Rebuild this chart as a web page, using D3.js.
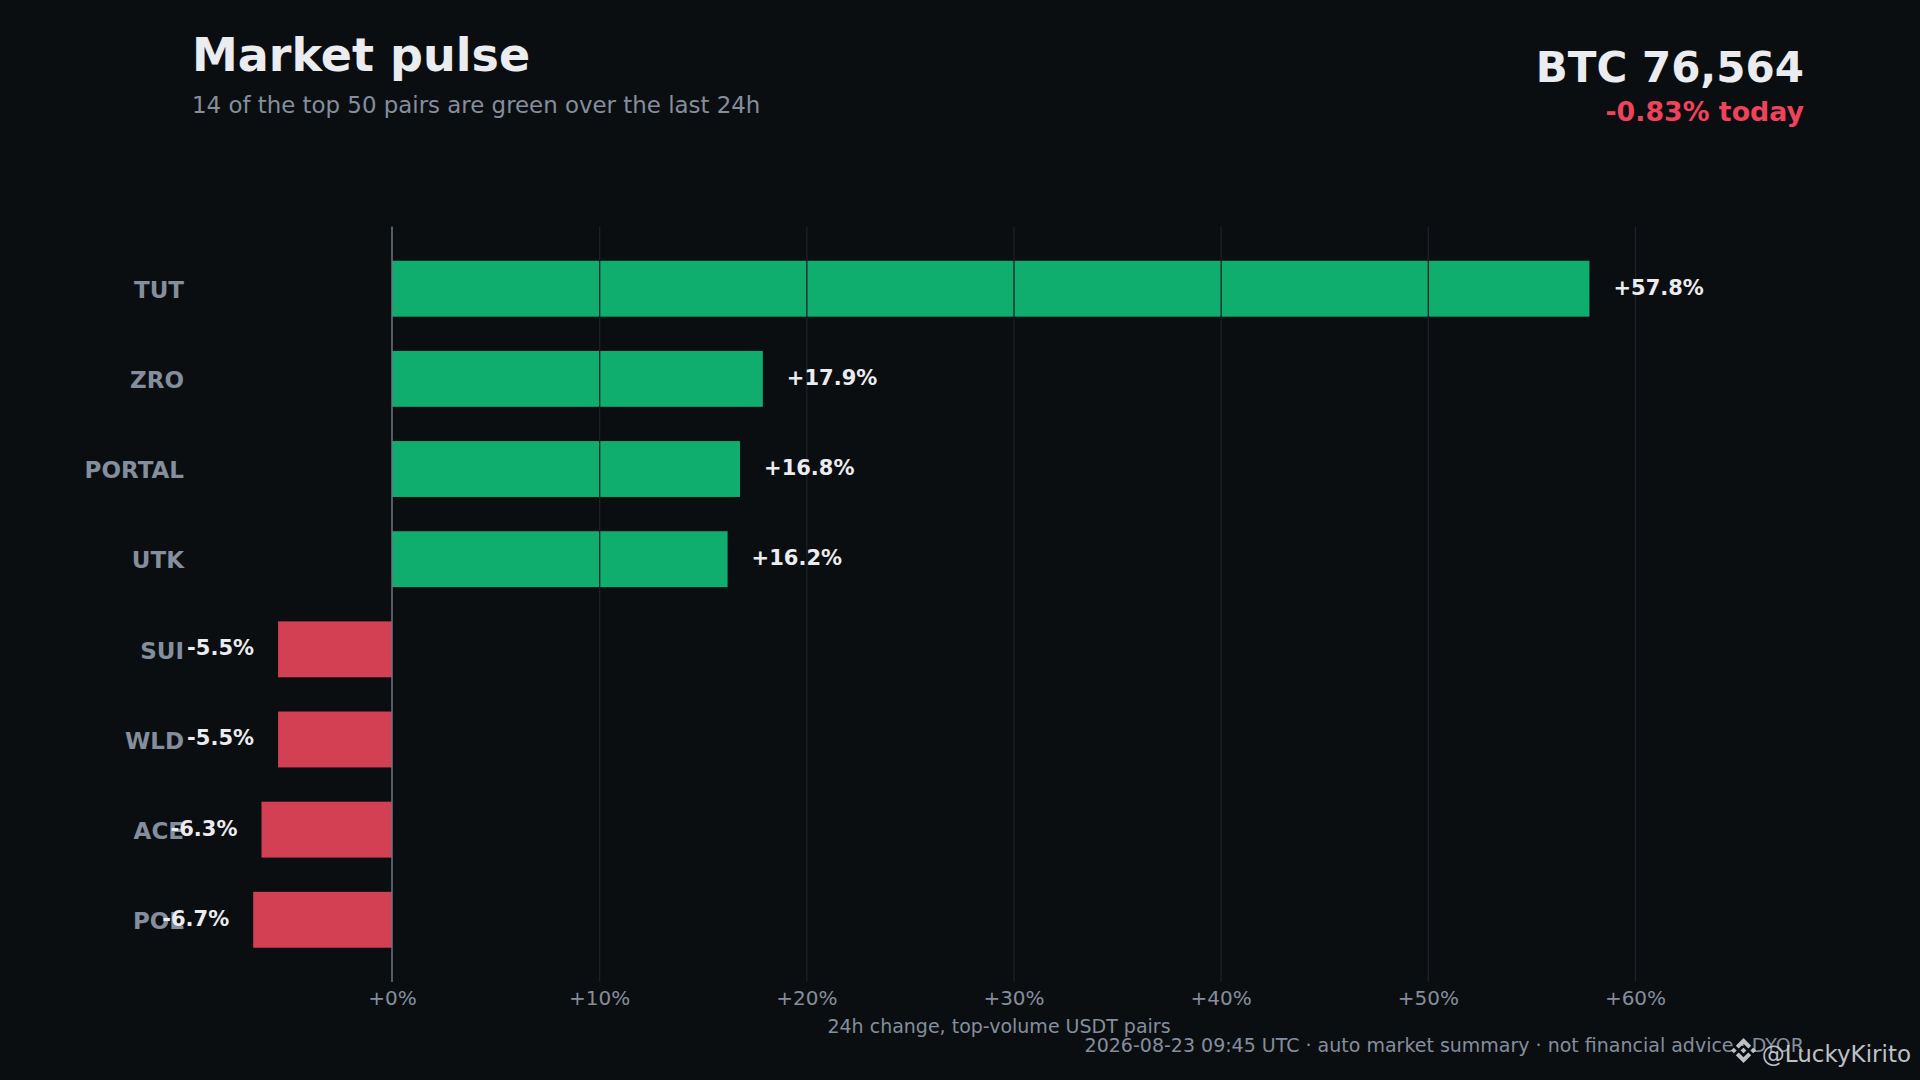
<!DOCTYPE html>
<html>
<head>
<meta charset="utf-8">
<script src="https://cdn.jsdelivr.net/npm/d3@7"></script>
<style>
  html, body { margin: 0; padding: 0; background: #0b0e11; }
  svg { display: block; font-family: "DejaVu Sans", sans-serif; }
</style>
</head>
<body>
<div id="chart"></div>
<script>
(function() {
  var WIDTH = 1920, HEIGHT = 1080;

  // data
  var symbols = ['TUT', 'ZRO', 'PORTAL', 'UTK', 'SUI', 'WLD', 'ACE', 'POL'];
  var changes = [57.8, 17.9, 16.8, 16.2, -5.5, -5.5, -6.3, -6.7];
  var xTicks = [0, 10, 20, 30, 40, 50, 60];
  var btcPrice = '76,564';
  var btcChange = -0.83;
  var greenCount = 14, topCount = 50;

  var rows = symbols.map(function(s, i) { return {sym: s, v: changes[i]}; });

  var BG = '#0b0e11', UP = '#0fae6f', DOWN = '#d33f53';
  var GRAY = '#848e9c', WHITE = '#eaecef';

  var svg = d3.select('#chart').append('svg')
    .attr('width', WIDTH)
    .attr('height', HEIGHT);

  svg.append('rect')
    .attr('width', WIDTH)
    .attr('height', HEIGHT)
    .attr('fill', BG);

  var top = 226.5, bottom = 982;
  var x = d3.scaleLinear().domain([0, 60]).range([392, 1635]);
  var y = d3.scaleBand().domain(symbols).range([top, bottom])
    .paddingInner(0.38).paddingOuter(0.38);

  // header
  svg.append('text')
    .attr('x', 192).attr('y', 71)
    .attr('fill', WHITE).attr('font-size', 46).attr('font-weight', 'bold')
    .text('Market pulse');
  svg.append('text')
    .attr('x', 192).attr('y', 113)
    .attr('fill', GRAY).attr('font-size', 22.9)
    .text(greenCount + ' of the top ' + topCount + ' pairs are green over the last 24h');

  svg.append('text')
    .attr('x', 1804).attr('y', 82)
    .attr('text-anchor', 'end')
    .attr('fill', WHITE).attr('font-size', 42).attr('font-weight', 'bold')
    .text('BTC ' + btcPrice);
  svg.append('text')
    .attr('x', 1804).attr('y', 120.5)
    .attr('text-anchor', 'end')
    .attr('fill', btcChange < 0 ? '#f0435b' : UP).attr('font-size', 26.8).attr('font-weight', 'bold')
    .text((btcChange < 0 ? '-' : '+') + Math.abs(btcChange).toFixed(2) + '% today');

  // bars
  svg.append('g').selectAll('rect')
    .data(rows)
    .enter().append('rect')
    .attr('x', function(d) { return Math.min(x(0), x(d.v)); })
    .attr('y', function(d) { return y(d.sym); })
    .attr('width', function(d) { return Math.abs(x(d.v) - x(0)); })
    .attr('height', y.bandwidth())
    .attr('fill', function(d) { return d.v >= 0 ? UP : DOWN; });

  // grid drawn over the bars
  var grid = svg.append('g')
    .attr('transform', 'translate(0,' + bottom + ')')
    .call(d3.axisBottom(x)
      .tickValues(xTicks.slice(1))
      .tickSize(-(bottom - top))
      .tickFormat(''));
  grid.select('.domain').remove();
  grid.selectAll('line').attr('stroke', '#1c2127').attr('stroke-width', 1.3);

  // zero line
  svg.append('line')
    .attr('x1', x(0)).attr('x2', x(0))
    .attr('y1', top).attr('y2', bottom)
    .attr('stroke', '#6f7680').attr('stroke-width', 1.5);

  // x tick labels
  var xAxis = svg.append('g')
    .attr('transform', 'translate(0,' + bottom + ')')
    .call(d3.axisBottom(x)
      .tickValues(xTicks)
      .tickSize(0)
      .tickPadding(9)
      .tickFormat(function(d) { return '+' + d + '%'; }));
  xAxis.select('.domain').remove();
  xAxis.selectAll('text')
    .attr('fill', GRAY).attr('font-size', 20)
    .attr('font-family', '"DejaVu Sans", sans-serif');

  // category labels
  var yAxis = svg.append('g')
    .attr('transform', 'translate(' + x(0) + ',0)')
    .call(d3.axisLeft(y).tickSize(0).tickPadding(208));
  yAxis.select('.domain').remove();
  yAxis.selectAll('text')
    .attr('fill', GRAY).attr('font-size', 23).attr('font-weight', 'bold')
    .attr('font-family', '"DejaVu Sans", sans-serif')
    .attr('dy', '0.4em');

  // value labels
  svg.append('g').selectAll('text')
    .data(rows)
    .enter().append('text')
    .attr('x', function(d) { return d.v >= 0 ? x(d.v) + 24 : x(d.v) - 24; })
    .attr('y', function(d) { return y(d.sym) + y.bandwidth() / 2; })
    .attr('dy', '0.28em')
    .attr('text-anchor', function(d) { return d.v >= 0 ? 'start' : 'end'; })
    .attr('fill', WHITE).attr('font-size', 21).attr('font-weight', 'bold')
    .text(function(d) { return (d.v >= 0 ? '+' : '-') + Math.abs(d.v).toFixed(1) + '%'; });

  // axis title + footer
  svg.append('text')
    .attr('x', 999).attr('y', 1033)
    .attr('text-anchor', 'middle')
    .attr('fill', GRAY).attr('font-size', 19)
    .text('24h change, top-volume USDT pairs');
  svg.append('text')
    .attr('x', 1804).attr('y', 1052)
    .attr('text-anchor', 'end')
    .attr('fill', GRAY).attr('font-size', 19)
    .text('2026-08-23 09:45 UTC \u00b7 auto market summary \u00b7 not financial advice \u00b7 DYOR');

  // watermark
  var mark = svg.append('g').attr('fill', '#cdd1d7').attr('opacity', 0.92);
  mark.append('path')
    .attr('transform', 'translate(1731,1038) scale(' + (25 / 126.61) + ')')
    .attr('d', 'M38.73 53.2l24.59-24.58 24.6 24.6 14.3-14.31L63.32 0 24.42 38.9zM0 63.31l14.3-14.31 14.31 14.31-14.31 14.3zM38.73 73.41l24.59 24.59 24.6-24.6 14.31 14.29-38.9 38.91-38.91-38.88zM98 63.31l14.3-14.31 14.31 14.3-14.31 14.32zM77.83 63.3L63.32 48.78 52.59 59.51l-1.24 1.23-2.54 2.54 14.51 14.5 14.51-14.47z');
  mark.append('text')
    .attr('x', 1911).attr('y', 1062)
    .attr('text-anchor', 'end')
    .attr('font-size', 23)
    .text('@LuckyKirito');
})();
</script>
</body>
</html>
